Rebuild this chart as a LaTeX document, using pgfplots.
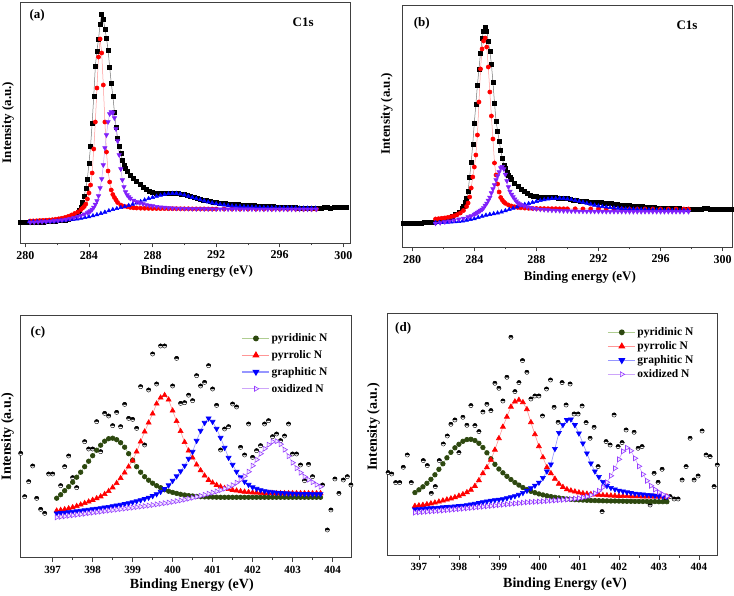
\documentclass[border=0pt]{standalone}
\usepackage{fontspec}
\setmainfont{Liberation Serif}
\usepackage{pgfplots}
\pgfplotsset{compat=1.18}
\usetikzlibrary{plotmarks}

\definecolor{cpurple}{RGB}{128,32,250}
\definecolor{cgreen}{RGB}{45,72,15}
\definecolor{lgreen}{RGB}{175,205,145}
\definecolor{lred}{RGB}{255,150,150}
\definecolor{lblue}{RGB}{150,150,255}
\definecolor{lpurple}{RGB}{205,165,250}
\definecolor{opurple}{RGB}{150,60,255}

% circle with black upper half, white lower half
\pgfdeclareplotmark{hcirc}{%
  \pgfpathcircle{\pgfpointorigin}{\pgfplotmarksize}%
  \pgfsetfillcolor{white}\pgfusepathqfillstroke
  \pgfpathmoveto{\pgfqpoint{\pgfplotmarksize}{0pt}}%
  \pgfpatharc{0}{180}{\pgfplotmarksize}%
  \pgfpathclose
  \pgfsetfillcolor{black}\pgfusepathqfillstroke
}

\pgfplotsset{
  panel/.style={
    scale only axis, clip=true,
    axis line style={draw=black!75, line width=0.9pt},
    ytick=\empty, xtick pos=left, tick align=outside,
    major tick length=4.5pt, minor tick length=2.5pt,
    every tick/.style={draw=black!75, line width=0.8pt},
    minor x tick num=1,
    /pgf/number format/assume math mode=true,
    xlabel style={anchor=center},
    ylabel style={anchor=center},
  },
  cpanel/.style={panel,
    tick label style={font=\fontsize{12}{13}\selectfont\bfseries},
    label style={font=\fontsize{13}{14}\selectfont\bfseries},
    xmin=279.66, xmax=300.42, xtick={280,284,...,300},
    xlabel={Binding energy (eV)}, ylabel={Intensity (a.u.)}},
  npanel/.style={panel,
    tick label style={font=\fontsize{11}{12}\selectfont\bfseries},
    label style={font=\fontsize{14}{15}\selectfont\bfseries},
    xtick={397,...,404},
    xlabel={Binding Energy (eV)}, ylabel={Intensity (a.u.)},
    legend style={draw=none, fill=none, inner sep=0pt,
      font=\fontsize{11.5}{12}\selectfont\bfseries, cells={anchor=west}},
    legend image code/.code={\draw[mark repeat=2,mark phase=2,line width=1.2pt,#1]
      plot coordinates {(0pt,0pt)(14pt,0pt)(27pt,0pt)};}},
  sblack/.style={color=black!55, line width=0.5pt, mark=square*, mark size=2pt,
    mark options={draw=black, fill=black}},
  sred/.style={color=lred, line width=0.5pt, mark=*, mark size=2.1pt,
    mark options={draw=red, fill=red}},
  sblue/.style={color=lblue, line width=0.5pt, mark=triangle*, mark size=2.3pt,
    mark options={draw=blue, fill=blue}},
  spurp/.style={color=lpurple, line width=0.5pt, mark=triangle*, mark size=2.5pt,
    mark options={draw=cpurple, fill=cpurple, rotate=180}},
  ndata/.style={only marks, mark=hcirc, mark size=2.1pt,
    mark options={draw=black, line width=0.4pt}},
  ngreen/.style={color=lgreen, line width=0.6pt, mark=*, mark size=2.3pt,
    mark options={draw=cgreen, fill=cgreen}},
  nred/.style={color=lred, line width=0.6pt, mark=triangle*, mark size=2.9pt,
    mark options={draw=red, fill=red}},
  nblue/.style={color=lblue, line width=0.6pt, mark=triangle*, mark size=2.9pt,
    mark options={draw=blue, fill=blue, rotate=180}},
  npurp/.style={color=lpurple, line width=0.6pt, mark=triangle*, mark size=2.9pt,
    mark options={draw=opurple, fill=opurple!12, rotate=-90, line width=0.6pt}},
}

\begin{document}
\begin{tikzpicture}
\useasboundingbox (0pt,0pt) rectangle (734pt,595pt);

% ---------------- (a) ----------------
\begin{axis}[cpanel, at={(20pt,352pt)}, anchor=south west,
  width=330pt, height=241pt, ymin=0, ymax=241,
  xlabel style={at={(axis description cs:0.536,-0.118)}},
  ylabel style={at={(axis description cs:-0.036,0.5)}}]
\addplot[sblack] coordinates {(279.7,20.3)(279.9,20.3)(280.1,20.4)(280.3,20.5)(280.5,20.6)(280.7,20.7)(280.9,20.9)(281.1,21.1)(281.3,21.4)(281.5,21.7)(281.7,21.9)(281.9,22.1)(282.1,22.4)(282.3,22.7)(282.5,23.0)(282.7,23.8)(282.9,25.0)(283.1,27.5)(283.3,30.5)(283.4,32.5)(283.5,36)(283.6,41)(283.7,47)(283.8,55)(283.9,64)(284.0,80)(284.1,97)(284.2,120)(284.3,147)(284.4,177)(284.5,192)(284.6,204)(284.7,219)(284.8,229)(284.9,224)(285.0,214)(285.1,205)(285.2,193)(285.3,176)(285.4,160)(285.5,147)(285.6,131)(285.7,116)(285.8,105)(285.9,97)(286.0,90)(286.1,83)(286.2,78)(286.3,75)(286.4,72)(286.6,68)(286.8,64.5)(287.0,61.3)(287.2,58.5)(287.4,56)(287.6,53.6)(287.8,51.5)(288.0,50.6)(288.2,50.0)(288.4,49.7)(288.6,49.6)(288.8,49.7)(289.0,49.9)(289.2,50.1)(289.4,50.1)(289.6,49.8)(289.8,49.2)(290.0,48.4)(290.2,47.5)(290.4,46.6)(290.6,45.7)(290.8,44.8)(291.0,43.9)(291.2,43.1)(291.4,42.3)(291.6,41.6)(291.8,41.0)(292.0,40.5)(292.2,40.0)(292.4,39.6)(292.6,39.3)(292.8,39.0)(293.0,38.8)(293.2,38.6)(293.4,38.4)(293.6,38.2)(293.8,38.0)(294.0,37.8)(294.2,37.6)(294.4,37.4)(294.6,37.2)(294.8,37.0)(295.0,36.9)(295.2,36.8)(295.4,36.6)(295.6,36.4)(295.8,36.2)(296.0,36.0)(296.2,35.8)(296.4,35.6)(296.6,35.5)(296.8,35.4)(297.0,35.3)(297.2,35.2)(297.4,35.1)(297.6,35.0)(297.8,34.9)(298.0,34.8)(298.2,34.7)(298.4,34.6)(298.6,35.0)(298.8,35.5)(299.0,35.3)(299.2,35.1)(299.4,35.6)(299.6,35.8)(299.8,35.4)(300.0,35.7)(300.2,35.9)};
\addplot[sred] coordinates {(280.3,22.0)(280.5,22.1)(280.7,22.2)(280.9,22.4)(281.1,22.6)(281.3,22.8)(281.5,23.0)(281.7,23.3)(281.9,23.7)(282.1,24.2)(282.3,24.8)(282.5,25.6)(282.7,26.6)(282.9,28.0)(283.1,29.5)(283.3,31.0)(283.5,33.5)(283.6,35)(283.7,36.5)(283.8,39)(283.9,44)(284.0,50)(284.1,58)(284.2,70)(284.3,94)(284.4,121)(284.5,155)(284.6,186)(284.7,204)(284.8,190)(284.9,158)(285.0,121)(285.1,91)(285.2,72)(285.3,61)(285.4,53)(285.5,48.5)(285.6,45.5)(285.7,43)(285.8,40.5)(286.0,38)(286.2,36.8)(286.4,36.2)(286.6,35.6)(286.8,35.2)(287.0,35.0)(287.25,34.8)(287.5,34.7)(287.75,34.6)(288.0,34.5)(288.25,34.5)(288.5,34.4)(288.75,34.4)(289.0,34.3)(289.25,34.3)(289.5,34.3)(289.75,34.2)(290.0,34.2)(290.25,34.2)(290.5,34.1)(290.75,34.1)(291.0,34.1)(291.25,34.1)(291.5,34.0)(291.75,34.0)(292.0,34.0)(292.5,34.0)(293.0,34.0)(293.5,33.9)(294.0,33.9)(294.5,33.9)(295.0,33.9)(295.5,33.9)(296.0,33.9)(296.5,33.8)(297.0,33.8)(297.5,33.8)(298.0,33.8)(298.3,33.8)};
\addplot[sblue] coordinates {(280.25,21.3)(280.5,21.3)(280.75,21.4)(281.0,21.4)(281.25,21.5)(281.5,21.6)(281.75,21.8)(282.0,22.0)(282.25,22.4)(282.5,22.8)(282.75,23.2)(283.0,23.6)(283.25,24.1)(283.5,24.7)(283.75,25.4)(284.0,26.2)(284.25,27.2)(284.5,28.3)(284.75,29.5)(285.0,30.8)(285.25,32.2)(285.5,33.4)(285.75,34.4)(286.0,35.4)(286.25,36.4)(286.5,37.5)(286.75,38.7)(287.0,40.0)(287.25,41.4)(287.5,43.0)(287.75,44.4)(288.0,45.6)(288.25,46.7)(288.5,47.7)(288.75,48.5)(289.0,49.2)(289.25,49.6)(289.5,49.6)(289.75,49.0)(290.0,48.0)(290.25,46.8)(290.5,45.6)(290.75,44.4)(291.0,43.2)(291.25,42.1)(291.5,41.0)(291.75,40.1)(292.0,39.3)(292.25,38.6)(292.5,38.0)(292.75,37.5)(293.0,37.1)(293.25,36.8)(293.5,36.5)(293.75,36.3)(294.0,36.1)(294.25,35.9)(294.5,35.8)(294.75,35.6)(295.0,35.5)(295.25,35.4)(295.5,35.3)(295.75,35.2)(296.0,35.2)(296.25,35.1)(296.5,35.1)(296.75,35.0)(297.0,35.0)(297.25,34.9)(297.5,34.9)(297.75,34.9)(298.0,34.8)(298.25,34.8)};
\addplot[spurp] coordinates {(280.3,20.5)(280.55,20.7)(280.8,20.9)(281.05,21.1)(281.3,21.4)(281.55,21.7)(281.8,22.0)(282.05,22.4)(282.3,22.9)(282.55,23.5)(282.8,24.3)(283.05,25.3)(283.3,26.5)(283.5,27.6)(283.7,28.8)(283.9,30.2)(284.0,31)(284.1,32)(284.2,33.5)(284.3,35.5)(284.4,38.5)(284.5,42)(284.6,47)(284.7,55)(284.8,64)(284.9,78)(285.0,95)(285.1,108)(285.2,121)(285.3,129)(285.4,131)(285.5,130)(285.6,125)(285.7,114)(285.8,102)(285.9,88)(286.0,74)(286.1,63)(286.2,56)(286.3,51)(286.4,48)(286.5,46)(286.6,44.5)(286.8,42.5)(287.0,41.2)(287.2,40.0)(287.4,39.0)(287.6,38.2)(287.8,37.5)(288.0,37.0)(288.25,36.4)(288.5,35.9)(288.75,35.5)(289.0,35.2)(289.25,34.9)(289.5,34.7)(289.75,34.5)(290.0,34.4)(290.25,34.3)(290.5,34.2)(290.75,34.1)(291.0,34.1)(291.25,34.0)(291.5,34.0)(291.75,33.9)(292.0,33.9)(292.25,33.9)(292.5,33.9)(292.75,33.8)(293.0,33.8)(293.25,33.8)(293.5,33.8)(293.75,33.8)(294.0,33.8)(294.25,33.8)(294.5,33.7)(294.75,33.7)(295.0,33.7)(295.25,33.7)(295.5,33.7)(295.75,33.7)(296.0,33.7)(296.25,33.7)(296.5,33.7)(296.75,33.7)(297.0,33.7)(297.25,33.7)(297.5,33.7)(297.75,33.7)(298.0,33.7)(298.3,33.7)};
\node[font=\fontsize{13}{14}\selectfont\bfseries] at (axis description cs:0.052,0.946) {(a)};
\node[font=\fontsize{13}{14}\selectfont\bfseries] at (axis description cs:0.858,0.917) {C1s};
\end{axis}

% ---------------- (b) ----------------
\begin{axis}[cpanel, at={(402pt,348pt)}, anchor=south west,
  width=330.7pt, height=242pt, ymin=0, ymax=242,
  xmin=279.34, xmax=300.65,
  xlabel style={at={(axis description cs:0.538,-0.124)}},
  ylabel style={at={(axis description cs:-0.046,0.55)}}]
\addplot[sblack] coordinates {(279.4,23.5)(279.6,23.6)(279.8,23.7)(280.0,23.8)(280.2,24.0)(280.4,24.1)(280.6,24.2)(280.8,24.4)(281.0,24.6)(281.2,24.8)(281.4,25.0)(281.6,25.3)(281.8,25.8)(282.0,26.6)(282.2,27.8)(282.4,29.0)(282.6,30.5)(282.8,32.3)(283.0,35)(283.2,38.5)(283.3,41)(283.4,45)(283.5,49)(283.6,56)(283.7,70)(283.8,85)(283.9,103)(284.0,124)(284.1,143)(284.2,162)(284.3,178)(284.4,194)(284.5,209)(284.6,216)(284.7,220)(284.8,216)(284.9,206)(285.0,196)(285.1,183)(285.2,165)(285.3,144)(285.4,126)(285.5,116)(285.6,106)(285.7,97)(285.8,89)(285.9,82)(286.0,78.5)(286.1,75)(286.2,72)(286.3,69.5)(286.4,67.5)(286.6,64)(286.8,61)(287.0,58)(287.2,55.5)(287.4,53.6)(287.6,52.2)(287.8,51.2)(288.0,50.5)(288.2,50.2)(288.4,50.0)(288.6,49.7)(288.8,49.5)(289.0,49.4)(289.2,49.3)(289.4,49.2)(289.6,49.0)(289.8,48.7)(290.0,48.3)(290.2,47.7)(290.4,47.0)(290.6,46.4)(290.8,45.9)(291.0,45.5)(291.2,45.3)(291.4,45.1)(291.6,44.9)(291.8,44.7)(292.0,44.5)(292.2,44.3)(292.4,44.1)(292.6,43.8)(292.8,43.4)(293.0,43.0)(293.2,42.6)(293.4,42.2)(293.6,41.9)(293.8,41.6)(294.0,41.4)(294.2,41.2)(294.4,41.0)(294.6,40.7)(294.8,40.4)(295.0,40.1)(295.2,39.8)(295.4,39.6)(295.6,39.4)(295.8,39.2)(296.0,39.0)(296.2,38.8)(296.4,38.7)(296.6,38.6)(296.8,38.5)(297.0,38.4)(297.2,38.3)(297.4,38.2)(297.6,38.1)(297.8,38.0)(298.0,37.8)(298.2,37.5)(298.4,37.3)(298.6,37.8)(298.8,38.3)(299.0,38.5)(299.2,38.0)(299.4,37.8)(299.6,37.6)(299.8,37.9)(300.0,38.0)(300.2,37.8)(300.4,37.7)(300.6,37.6)};
\addplot[sred] coordinates {(281.5,28.0)(281.7,28.3)(281.9,28.7)(282.1,29.1)(282.3,29.6)(282.5,30.3)(282.7,31.2)(282.9,32.4)(283.1,34.0)(283.3,36.5)(283.5,40.5)(283.6,44)(283.7,50)(283.8,59)(283.9,70)(284.0,80)(284.1,92)(284.2,112)(284.3,145)(284.4,178)(284.5,198)(284.6,206)(284.7,209)(284.8,200)(284.9,180)(285.0,155)(285.1,131)(285.2,108)(285.3,84)(285.4,72)(285.5,63)(285.6,55)(285.7,49.5)(285.8,47)(285.9,45)(286.0,43.7)(286.2,42)(286.4,41)(286.6,40.2)(286.8,39.6)(287.0,39.2)(287.25,38.9)(287.5,38.7)(287.75,38.6)(288.0,38.5)(288.25,38.4)(288.5,38.4)(288.75,38.3)(289.0,38.3)(289.25,38.3)(289.5,38.2)(289.75,38.2)(290.0,38.2)(290.5,38.2)(291.0,38.1)(291.5,38.1)(292.0,38.1)(292.5,38.1)(293.0,38.0)(293.5,38.0)(294.0,38.0)(294.5,38.0)(295.0,38.0)(295.5,38.0)(296.0,38.0)(296.5,38.0)(297.0,38.0)(297.5,38.0)(297.8,38.0)};
\addplot[sblue] coordinates {(281.5,24.3)(281.75,24.4)(282.0,24.5)(282.25,24.7)(282.5,24.9)(282.75,25.2)(283.0,25.6)(283.25,26.1)(283.5,26.7)(283.75,27.4)(284.0,28.3)(284.25,29.5)(284.5,30.7)(284.75,31.8)(285.0,32.6)(285.25,33.3)(285.5,34.0)(285.75,35.0)(286.0,36.3)(286.25,37.6)(286.5,38.7)(286.75,39.9)(287.0,41.2)(287.25,42.5)(287.5,43.4)(287.75,44.5)(288.0,45.6)(288.25,46.5)(288.5,47.3)(288.75,47.9)(289.0,48.4)(289.25,48.6)(289.5,48.7)(289.75,48.5)(290.0,48.0)(290.25,47.4)(290.5,46.6)(290.75,45.7)(291.0,44.7)(291.25,43.7)(291.5,42.7)(291.75,41.8)(292.0,41.0)(292.25,40.4)(292.5,39.9)(292.75,39.4)(293.0,39.0)(293.25,38.7)(293.5,38.4)(293.75,38.1)(294.0,37.9)(294.25,37.7)(294.5,37.6)(294.75,37.4)(295.0,37.3)(295.25,37.2)(295.5,37.0)(295.75,36.9)(296.0,36.8)(296.25,36.7)(296.5,36.6)(296.75,36.5)(297.0,36.5)(297.25,36.4)(297.5,36.4)(297.75,36.3)};
\addplot[spurp] coordinates {(281.5,23.7)(281.8,24.2)(282.1,25.0)(282.4,25.8)(282.7,26.8)(283.0,27.8)(283.3,28.7)(283.6,30.0)(283.8,31.0)(284.0,32.5)(284.1,33.5)(284.2,34.5)(284.3,35.5)(284.4,36.5)(284.5,37.5)(284.6,39.0)(284.7,41.5)(284.8,43.7)(284.9,46.5)(285.0,49.5)(285.1,54)(285.2,58)(285.3,62)(285.4,67)(285.5,71)(285.6,75)(285.7,79)(285.8,80.3)(285.9,78)(286.0,72.5)(286.1,66)(286.2,60)(286.3,55.5)(286.4,52.5)(286.5,50)(286.6,47.8)(286.7,45.8)(286.8,44.2)(286.9,43.2)(287.0,42.3)(287.2,41.0)(287.4,40.0)(287.6,39.3)(287.8,38.7)(288.0,38.2)(288.25,37.7)(288.5,37.3)(288.75,37.0)(289.0,36.7)(289.25,36.5)(289.5,36.3)(289.75,36.1)(290.0,36.0)(290.25,35.9)(290.5,35.8)(290.75,35.7)(291.0,35.7)(291.25,35.6)(291.5,35.6)(291.75,35.5)(292.0,35.5)(292.25,35.5)(292.5,35.4)(292.75,35.4)(293.0,35.4)(293.25,35.4)(293.5,35.4)(293.75,35.3)(294.0,35.3)(294.25,35.3)(294.5,35.3)(294.75,35.3)(295.0,35.3)(295.25,35.3)(295.5,35.3)(295.75,35.3)(296.0,35.3)(296.25,35.3)(296.5,35.3)(296.75,35.3)(297.0,35.3)(297.25,35.3)(297.5,35.3)(297.8,35.3)};
\node[font=\fontsize{13}{14}\selectfont\bfseries] at (axis description cs:0.06,0.926) {(b)};
\node[font=\fontsize{13}{14}\selectfont\bfseries] at (axis description cs:0.862,0.917) {C1s};
\end{axis}

% ---------------- (c) ----------------
\begin{axis}[npanel, at={(20.7pt,37.3pt)}, anchor=south west,
  width=331pt, height=242.7pt, ymin=0, ymax=242.7,
  xmin=396.2, xmax=404.48,
  xlabel style={at={(axis description cs:0.517,-0.112)}},
  ylabel style={at={(axis description cs:-0.04,0.5)}},
  legend style={at={(axis description cs:0.666,0.932)}, anchor=north west, row sep=3.3pt}]
\addplot[ndata, forget plot] coordinates {(396.2,104.3)(396.3,61)(396.4,76)(396.5,91.7)(396.6,59.3)(396.7,48.3)(396.8,44.3)(396.9,83.7)(397.0,83.7)(397.2,72)(397.3,91)(397.4,101.7)(397.5,80)(397.6,70)(397.8,116)(397.9,108.7)(398.0,108.7)(398.1,136)(398.2,106)(398.3,144.3)(398.4,141.7)(398.5,132)(398.6,145.3)(398.7,131)(398.8,153.3)(398.9,139.3)(399.0,138.3)(399.1,129.3)(399.2,171)(399.3,112.7)(399.4,167.7)(399.5,203.7)(399.6,173.7)(399.7,211.7)(399.8,211.7)(400.0,171.7)(400.1,199.3)(400.2,154.3)(400.3,155)(400.4,162.5)(400.5,157)(400.6,182)(400.7,171.7)(400.8,175.3)(400.9,192)(401.0,168.7)(401.1,152.3)(401.2,107.7)(401.3,128.7)(401.4,131)(401.5,153.7)(401.6,150.7)(401.7,110.3)(401.8,102.7)(401.9,133.7)(402.0,100.3)(402.1,107)(402.2,112)(402.3,133.7)(402.4,137)(402.5,121)(402.6,123.7)(402.7,117)(402.8,121.7)(402.9,133.7)(403.0,103.7)(403.1,103.7)(403.2,92.7)(403.3,77)(403.4,93.3)(403.5,81)(403.75,72.7)(403.87,27.7)(403.96,47.7)(404.06,78.7)(404.16,64.3)(404.27,77.7)(404.37,81)(404.46,72.7)};
\addplot[ngreen] coordinates {(397.1,59.5)(397.2,63)(397.3,67)(397.4,71)(397.5,75.5)(397.6,80.5)(397.7,85.5)(397.8,91)(397.9,96.5)(398.0,102)(398.1,107.5)(398.2,112.5)(398.3,116.5)(398.4,119)(398.5,119.5)(398.6,118)(398.7,115)(398.8,110.5)(398.9,104)(399.0,97.5)(399.1,91)(399.2,85.5)(399.3,81)(399.4,77.5)(399.5,74.5)(399.6,72)(399.7,70)(399.8,68)(399.9,66.5)(400.0,65.3)(400.1,64.3)(400.2,63.4)(400.3,62.7)(400.4,62.1)(400.5,61.7)(400.6,61.3)(400.7,61.0)(400.8,60.8)(400.9,60.7)(401.0,60.6)(401.1,60.5)(401.2,60.4)(401.3,60.4)(401.4,60.4)(401.5,60.4)(401.6,60.4)(401.7,60.4)(401.8,60.4)(401.9,60.4)(402.0,60.4)(402.1,60.4)(402.2,60.4)(402.3,60.4)(402.4,60.4)(402.5,60.4)(402.6,60.4)(402.7,60.4)(402.8,60.4)(402.9,60.4)(403.0,60.4)(403.1,60.4)(403.2,60.4)(403.3,60.4)(403.4,60.4)(403.5,60.4)(403.6,60.4)(403.7,60.4)};
\addlegendentry{pyridinic N}
\addplot[nred] coordinates {(397.1,47)(397.2,47.6)(397.3,48.3)(397.4,49.2)(397.5,50.3)(397.6,51.6)(397.7,53)(397.8,54.5)(397.9,56)(398.0,57.7)(398.1,59.3)(398.2,61.2)(398.3,63.5)(398.4,66.5)(398.5,70.2)(398.6,74.5)(398.7,79.5)(398.8,85)(398.9,91)(399.0,97)(399.1,106)(399.2,116)(399.3,126)(399.4,135)(399.5,144)(399.6,154)(399.7,160)(399.8,162.5)(399.9,158)(400.0,147)(400.1,136.5)(400.2,126.5)(400.3,115.5)(400.4,107)(400.5,100)(400.6,93)(400.7,87.3)(400.8,82)(400.9,77.7)(401.0,75)(401.1,72.7)(401.2,71)(401.3,69.5)(401.4,68.5)(401.5,67.7)(401.6,67)(401.7,66.4)(401.8,65.9)(401.9,65.5)(402.0,65.2)(402.1,65.0)(402.2,64.8)(402.3,64.7)(402.4,64.6)(402.5,64.5)(402.6,64.4)(402.7,64.4)(402.8,64.4)(402.9,64.4)(403.0,64.4)(403.1,64.4)(403.2,64.4)(403.3,64.4)(403.4,64.4)(403.5,64.4)(403.6,64.4)(403.7,64.4)};
\addlegendentry{pyrrolic N}
\addplot[nblue] coordinates {(397.1,44.4)(397.2,44.8)(397.3,45.2)(397.4,45.6)(397.5,46.0)(397.6,46.5)(397.7,47.0)(397.8,47.5)(397.9,48.0)(398.0,48.6)(398.1,49.2)(398.2,49.7)(398.3,50.3)(398.4,50.9)(398.5,51.6)(398.6,52.3)(398.7,53.0)(398.8,53.8)(398.9,54.6)(399.0,55.5)(399.1,56.5)(399.2,57.6)(399.3,58.8)(399.4,60.2)(399.5,61.8)(399.6,63.7)(399.7,66)(399.8,68.8)(399.9,72.5)(400.0,77)(400.1,81.5)(400.2,86.5)(400.3,92)(400.4,99)(400.5,106)(400.6,117)(400.7,127)(400.8,135)(400.9,139.4)(401.0,136)(401.1,129)(401.2,120)(401.3,110)(401.4,100)(401.5,93)(401.6,86)(401.7,80.5)(401.8,76)(401.9,73)(402.0,70.5)(402.1,69)(402.2,67.7)(402.3,66.7)(402.4,66)(402.5,65.5)(402.6,65.1)(402.7,64.8)(402.8,64.5)(402.9,64.3)(403.0,64.1)(403.1,64.0)(403.2,63.9)(403.3,63.8)(403.4,63.8)(403.5,63.7)(403.6,63.7)(403.7,63.7)};
\addlegendentry{graphitic N}
\addplot[npurp] coordinates {(397.1,40.4)(397.2,40.9)(397.3,41.4)(397.4,41.9)(397.5,42.4)(397.6,42.9)(397.7,43.4)(397.8,43.9)(397.9,44.5)(398.0,45.0)(398.1,45.5)(398.2,46.0)(398.3,46.6)(398.4,47.1)(398.5,47.6)(398.6,48.1)(398.7,48.6)(398.8,49.1)(398.9,49.6)(399.0,50.1)(399.1,50.6)(399.2,51.1)(399.3,51.6)(399.4,52.1)(399.5,52.7)(399.6,53.3)(399.7,53.9)(399.8,54.5)(399.9,55.1)(400.0,55.8)(400.1,56.5)(400.2,57.3)(400.3,58.1)(400.4,59.0)(400.5,59.9)(400.6,60.9)(400.7,61.9)(400.8,62.9)(400.9,64.0)(401.0,65.1)(401.1,66.3)(401.2,67.6)(401.3,69.0)(401.4,70.6)(401.5,72.5)(401.6,75)(401.7,78)(401.8,81.5)(401.9,86)(402.0,92)(402.1,98)(402.2,104)(402.3,109)(402.4,113)(402.5,116)(402.6,116.5)(402.7,113.5)(402.8,108)(402.9,101.5)(403.0,95)(403.1,89.5)(403.2,85)(403.3,81)(403.4,78)(403.5,75.5)(403.6,73)(403.7,71)};
\addlegendentry{oxidized N}
\node[font=\fontsize{13}{14}\selectfont\bfseries] at (axis description cs:0.052,0.93) {(c)};
\end{axis}

% ---------------- (d) ----------------
\begin{axis}[npanel, at={(387.3pt,39.7pt)}, anchor=south west,
  width=330.4pt, height=242pt, ymin=0, ymax=242,
  xmin=396.21, xmax=404.47,
  xlabel style={at={(axis description cs:0.538,-0.119)}},
  ylabel style={at={(axis description cs:-0.042,0.53)}},
  legend style={at={(axis description cs:0.665,0.95)}, anchor=north west, row sep=0.5pt}]
\addplot[ndata, forget plot] coordinates {(396.23,82.7)(396.32,81.3)(396.42,72.7)(396.52,72.7)(396.61,88)(396.71,100.3)(396.81,72.7)(397.11,94.7)(397.21,89.7)(397.31,62)(397.41,68.7)(397.51,94.7)(397.61,111.3)(397.71,119.3)(397.8,131)(397.9,135.3)(398.0,102.7)(398.1,138)(398.2,130)(398.3,149.7)(398.4,129.7)(398.5,123.7)(398.6,143.3)(398.7,151)(398.8,144.7)(398.9,172)(399.0,167)(399.1,154.3)(399.2,178)(399.3,218)(399.4,163.7)(399.5,172.7)(399.59,194.7)(399.7,183)(399.8,156.3)(399.9,159.3)(400.0,159.3)(400.09,139.3)(400.19,166.3)(400.29,175.3)(400.38,148)(400.48,133)(400.58,172.7)(400.68,150.3)(400.78,171.3)(400.88,141.3)(400.98,141.3)(401.08,149.3)(401.18,132.7)(401.28,117)(401.38,128)(401.48,88.7)(401.58,43.7)(401.68,113.7)(401.78,110.3)(401.88,140.3)(401.98,108.7)(402.08,112.7)(402.18,125.3)(402.38,123)(402.48,107)(402.58,108.7)(402.78,50.3)(402.88,82)(402.98,73)(403.08,86)(403.18,55.3)(403.28,58.7)(403.38,56.3)(403.48,56.3)(403.58,75.3)(403.68,88.7)(403.78,117)(403.88,75.3)(403.98,79.3)(404.08,124.3)(404.18,100.3)(404.28,98.7)(404.38,68.7)(404.46,90.3)};
\addplot[ngreen] coordinates {(396.9,62.7)(397.0,65.5)(397.1,68.5)(397.2,72)(397.3,76)(397.4,80.5)(397.5,86)(397.6,91.5)(397.7,97.5)(397.8,103)(397.9,107.5)(398.0,111)(398.1,114)(398.2,115.7)(398.3,116)(398.4,114.8)(398.5,112)(398.6,107.8)(398.7,102.5)(398.8,96.5)(398.9,91)(399.0,86.3)(399.1,82.5)(399.2,79)(399.3,75.8)(399.4,72.8)(399.5,70.2)(399.6,67.8)(399.7,65.8)(399.8,64.0)(399.9,62.6)(400.0,61.4)(400.1,60.4)(400.2,59.5)(400.3,58.7)(400.4,58.0)(400.5,57.4)(400.6,56.8)(400.7,56.3)(400.8,55.9)(400.9,55.6)(401.0,55.4)(401.1,55.2)(401.2,55.0)(401.3,54.8)(401.4,54.7)(401.5,54.6)(401.6,54.5)(401.7,54.4)(401.8,54.3)(401.9,54.3)(402.0,54.2)(402.1,54.1)(402.2,54.0)(402.3,54.0)(402.4,53.9)(402.5,53.9)(402.6,53.8)(402.7,53.8)(402.8,53.7)(402.9,53.7)(403.0,53.6)(403.1,53.6)(403.2,53.6)};
\addlegendentry{pyridinic N}
\addplot[nred] coordinates {(396.9,49.3)(397.0,49.8)(397.1,50.3)(397.2,51.0)(397.3,51.8)(397.4,52.6)(397.5,53.6)(397.6,54.7)(397.7,55.7)(397.8,56.8)(397.9,58)(398.0,59.4)(398.1,61)(398.2,63)(398.3,65.5)(398.4,69.3)(398.5,75)(398.6,82)(398.7,88)(398.8,95.5)(398.9,105.5)(399.0,117)(399.1,128.5)(399.2,138.5)(399.3,148.5)(399.4,153.7)(399.5,155.3)(399.6,153)(399.7,146)(399.8,133)(399.9,121)(400.0,109)(400.1,98)(400.2,88)(400.3,82)(400.4,76.5)(400.5,71.5)(400.6,68.3)(400.7,66)(400.8,64.7)(400.9,63.7)(401.0,62.8)(401.1,62)(401.2,61.5)(401.3,61.1)(401.4,60.7)(401.5,60.4)(401.6,60.1)(401.7,59.9)(401.8,59.7)(401.9,59.5)(402.0,59.3)(402.1,59.2)(402.2,59.1)(402.3,59.0)(402.4,58.9)(402.5,58.9)(402.6,58.8)(402.7,58.8)(402.8,58.8)(402.9,58.7)(403.0,58.7)(403.1,58.7)(403.2,58.7)};
\addlegendentry{pyrrolic N}
\addplot[nblue] coordinates {(396.9,46)(397.0,46.3)(397.1,46.6)(397.2,46.9)(397.3,47.2)(397.4,47.5)(397.5,47.8)(397.6,48.1)(397.7,48.4)(397.8,48.6)(397.9,49)(398.0,49.4)(398.1,49.8)(398.2,50.3)(398.3,50.9)(398.4,51.6)(398.5,52.4)(398.6,53.2)(398.7,54)(398.8,54.7)(398.9,55.3)(399.0,55.7)(399.1,56.3)(399.2,57.2)(399.3,58.2)(399.4,59.3)(399.5,60.6)(399.6,62.5)(399.7,64.7)(399.8,67.2)(399.9,69.8)(400.0,72.8)(400.1,77.5)(400.2,84)(400.3,91)(400.4,106.5)(400.5,122.5)(400.6,130.5)(400.7,135.3)(400.8,136)(400.9,130.3)(401.0,122)(401.1,112)(401.2,102)(401.3,92)(401.4,84)(401.5,78.5)(401.6,73.5)(401.7,69.5)(401.8,67.5)(401.9,66)(402.0,64.8)(402.1,63.9)(402.2,63.1)(402.3,62.4)(402.4,61.8)(402.5,61.3)(402.6,60.9)(402.7,60.5)(402.8,60.1)(402.9,59.7)(403.0,59.3)(403.1,59.0)(403.2,58.7)};
\addlegendentry{graphitic N}
\addplot[npurp] coordinates {(396.9,42.7)(397.0,43.0)(397.1,43.3)(397.2,43.6)(397.3,43.9)(397.4,44.2)(397.5,44.5)(397.6,44.8)(397.7,45.2)(397.8,45.5)(397.9,45.9)(398.0,46.2)(398.1,46.6)(398.2,47.0)(398.3,47.4)(398.4,47.8)(398.5,48.2)(398.6,48.6)(398.7,49.0)(398.8,49.4)(398.9,49.8)(399.0,50.2)(399.1,50.6)(399.2,51.0)(399.3,51.4)(399.4,51.8)(399.5,52.2)(399.6,52.6)(399.7,53.0)(399.8,53.3)(399.9,53.5)(400.0,53.7)(400.1,54.0)(400.2,54.3)(400.3,54.6)(400.4,54.9)(400.5,55.2)(400.6,55.5)(400.7,55.8)(400.8,56.2)(400.9,56.6)(401.0,57.1)(401.1,57.8)(401.2,58.8)(401.3,60.2)(401.4,62)(401.5,64.5)(401.6,68)(401.7,73)(401.8,79.5)(401.9,87)(402.0,96)(402.1,104)(402.2,107.5)(402.3,104.5)(402.4,97)(402.5,89)(402.6,81)(402.7,74.5)(402.8,69.5)(402.9,65.8)(403.0,63)(403.1,60.8)(403.2,59)};
\addlegendentry{oxidized N}
\node[font=\fontsize{13}{14}\selectfont\bfseries] at (axis description cs:0.048,0.939) {(d)};
\end{axis}
\end{tikzpicture}
\end{document}
